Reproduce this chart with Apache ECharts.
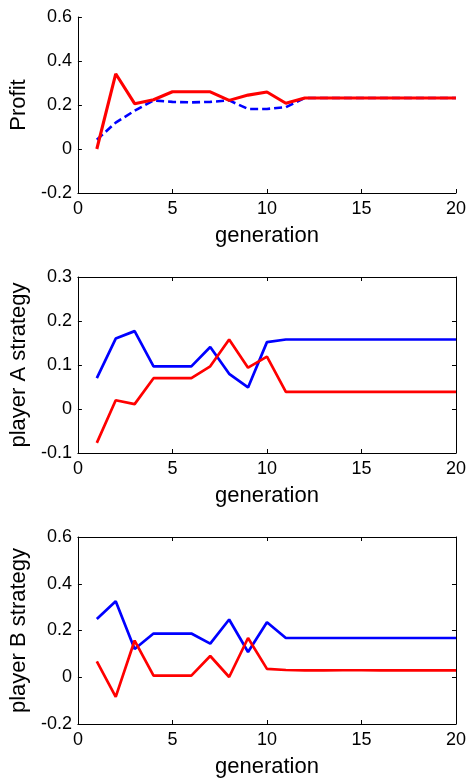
<!DOCTYPE html>
<html>
<head>
<meta charset="utf-8">
<script src="https://cdn.jsdelivr.net/npm/echarts@6/dist/echarts.min.js"></script>
<style>
  html, body { margin: 0; padding: 0; background: #fff; }
  #main { width: 469px; height: 780px; }
</style>
</head>
<body>
<div id="main"></div>
<script>
// generations 1..20
const generations = [1, 2, 3, 4, 5, 6, 7, 8, 9, 10, 11, 12, 13, 14, 15, 16, 17, 18, 19, 20];

// panel 1: profit
const profitBlue = [0.042, 0.12, 0.174, 0.221, 0.214, 0.212, 0.214, 0.221, 0.182, 0.182, 0.19, 0.232, 0.232, 0.232, 0.232, 0.232, 0.232, 0.232, 0.232, 0.232];
const profitRed = [0, 0.342, 0.206, 0.224, 0.26, 0.26, 0.26, 0.221, 0.245, 0.259, 0.208, 0.232, 0.232, 0.232, 0.232, 0.232, 0.232, 0.232, 0.232, 0.232];

// panel 2: player A strategy
const aBlue = [0.07, 0.16, 0.177, 0.097, 0.097, 0.097, 0.141, 0.08, 0.049, 0.152, 0.158, 0.158, 0.158, 0.158, 0.158, 0.158, 0.158, 0.158, 0.158, 0.158];
const aRed = [-0.077, 0.02, 0.011, 0.07, 0.07, 0.07, 0.097, 0.158, 0.094, 0.119, 0.039, 0.039, 0.039, 0.039, 0.039, 0.039, 0.039, 0.039, 0.039, 0.039];

// panel 3: player B strategy
const bBlue = [0.249, 0.325, 0.121, 0.187, 0.187, 0.187, 0.144, 0.247, 0.108, 0.235, 0.168, 0.168, 0.168, 0.168, 0.168, 0.168, 0.168, 0.168, 0.168, 0.168];
const bRed = [0.068, -0.084, 0.157, 0.007, 0.007, 0.007, 0.091, 0.001, 0.168, 0.036, 0.031, 0.029, 0.029, 0.03, 0.03, 0.029, 0.029, 0.029, 0.029, 0.029];

const xTicks = { min: 0, max: 20, interval: 5 };
const yRanges = [
  { min: -0.2, max: 0.6, interval: 0.2, name: 'Profit' },
  { min: -0.1, max: 0.3, interval: 0.1, name: 'player A strategy' },
  { min: -0.2, max: 0.6, interval: 0.2, name: 'player B strategy' }
];

const FONT = '"Liberation Sans", Arial, sans-serif';
const RED = '#ff0000';
const BLUE = '#0000ff';

function pairs(vals) {
  return generations.map((g, i) => [g, vals[i]]);
}

function fmt(v) {
  return String(Math.round(v * 10) / 10);
}

const grids = [
  { left: 77, right: 11, top: 17, height: 176 },
  { left: 77, right: 11, top: 277, height: 176 },
  { left: 77, right: 11, top: 537, height: 187 }
];

const xAxis = [];
const yAxis = [];
const boxed = [false, true, true];

grids.forEach((g, i) => {
  xAxis.push({
    type: 'value', gridIndex: i, position: 'bottom',
    min: xTicks.min, max: xTicks.max, interval: xTicks.interval,
    name: 'generation', nameLocation: 'middle', nameGap: 32,
    nameTextStyle: { fontFamily: FONT, fontSize: 22, color: '#000' },
    axisLine: { show: true, onZero: false, lineStyle: { color: '#000', width: 1 } },
    axisTick: { show: true, inside: true, length: 4, lineStyle: { color: '#000' } },
    axisLabel: { fontFamily: FONT, fontSize: 18, color: '#000', margin: 7 },
    splitLine: { show: false }
  });
  const yr = yRanges[i];
  yAxis.push({
    type: 'value', gridIndex: i, position: 'left',
    min: yr.min, max: yr.max, interval: yr.interval,
    name: yr.name, nameLocation: 'middle', nameGap: 47, nameRotate: 90,
    nameTextStyle: { fontFamily: FONT, fontSize: 22, color: '#000' },
    axisLine: { show: true, onZero: false, lineStyle: { color: '#000', width: 1 } },
    axisTick: { show: true, inside: true, length: 4, lineStyle: { color: '#000' } },
    axisLabel: { fontFamily: FONT, fontSize: 18, color: '#000', margin: 6, formatter: fmt },
    splitLine: { show: false }
  });
  if (boxed[i]) {
    xAxis.push({
      type: 'value', gridIndex: i, position: 'top',
      min: xTicks.min, max: xTicks.max, interval: xTicks.interval,
      axisLine: { show: true, onZero: false, lineStyle: { color: '#000', width: 1 } },
      axisTick: { show: true, inside: true, length: 4, lineStyle: { color: '#000' } },
      axisLabel: { show: false },
      splitLine: { show: false }
    });
    yAxis.push({
      type: 'value', gridIndex: i, position: 'right',
      min: yr.min, max: yr.max, interval: yr.interval,
      axisLine: { show: true, onZero: false, lineStyle: { color: '#000', width: 1 } },
      axisTick: { show: true, inside: true, length: 4, lineStyle: { color: '#000' } },
      axisLabel: { show: false },
      splitLine: { show: false }
    });
  }
});

// axis index of the bottom x / left y for each panel
const xIdx = [0, 1, 3];
const yIdx = [0, 1, 3];

function line(panel, vals, color, dashed, width) {
  return {
    type: 'line', xAxisIndex: xIdx[panel], yAxisIndex: yIdx[panel],
    data: pairs(vals), symbol: 'none', animation: false,
    lineStyle: { color: color, width: width || 2.7, type: dashed ? [8, 4] : 'solid' }
  };
}

const chart = echarts.init(document.getElementById('main'), null, { renderer: 'canvas' });
chart.setOption({
  animation: false,
  backgroundColor: '#fff',
  grid: grids,
  xAxis: xAxis,
  yAxis: yAxis,
  series: [
    line(0, profitBlue, BLUE, true, 2.6),
    line(0, profitRed, RED, false, 3.1),
    line(1, aBlue, BLUE, false),
    line(1, aRed, RED, false),
    line(2, bBlue, BLUE, false),
    line(2, bRed, RED, false)
  ]
});
</script>
</body>
</html>
